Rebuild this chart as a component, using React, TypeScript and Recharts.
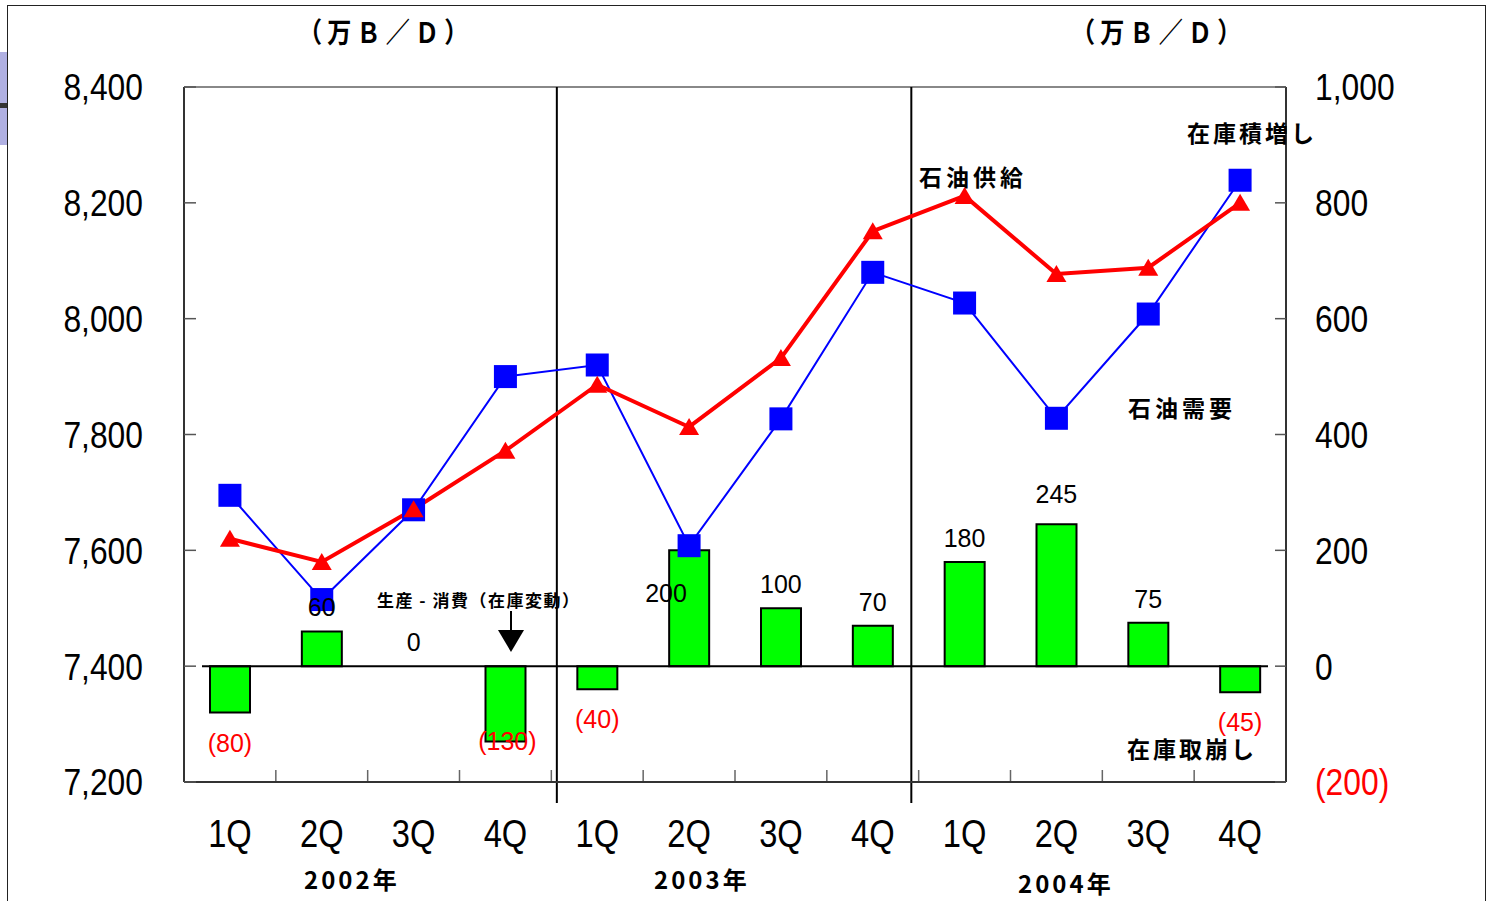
import React from "react";
import {
  ComposedChart,
  Bar,
  Line,
  XAxis,
  YAxis,
  ReferenceLine,
} from "recharts";

const quarters = ["1Q", "2Q", "3Q", "4Q", "1Q", "2Q", "3Q", "4Q", "1Q", "2Q", "3Q", "4Q"];
const demand = [7695, 7515, 7670, 7900, 7920, 7608, 7827, 8080, 8027, 7828, 8008, 8239];
const supply = [7620, 7580, 7671, 7772, 7886, 7813, 7932, 8151, 8212, 8077, 8088, 8200];
const stockChange = [-80, 60, 0, -130, -40, 200, 100, 70, 180, 245, 75, -45];

const leftTicks = [7200, 7400, 7600, 7800, 8000, 8200, 8400];
const rightTicks = [-200, 0, 200, 400, 600, 800, 1000];
const quarterEdges = [1, 2, 3, 4, 5, 6, 7, 8, 9, 10, 11];
const yearBreaks = [4.06, 7.92];
const years = ["2002年", "2003年", "2004年"];

const data = quarters.map((q, i) => ({
  q,
  slot: i + 0.5,
  demand: demand[i],
  supply: supply[i],
  change: stockChange[i],
}));

const NUM_FONT = "'Liberation Sans', Arial, sans-serif";
const JP_FONT = "'Noto Sans CJK JP', 'Noto Sans', sans-serif";

// hand-placed nudges for a few value labels
const labelNudge: Record<number, [number, number]> = {
  3: [2, -30],
  5: [-23, 67],
  9: [0, -6],
};

const fmtNum = (v: number) => (v < 0 ? `(${Math.abs(v).toLocaleString("en-US")})` : v.toLocaleString("en-US"));

function LeftTick({ x, y, payload }: any) {
  return (
    <g>
      <line x1={x} x2={x + 12} y1={y} y2={y} stroke="#555" strokeWidth={1.5} />
      <text
        transform={`translate(${x - 41} ${y}) scale(0.86 1)`}
        textAnchor="end"
        dy="0.36em"
        fontSize={37}
        fontFamily={NUM_FONT}
        fill="#000"
      >
        {fmtNum(payload.value)}
      </text>
    </g>
  );
}

function RightTick({ x, y, payload }: any) {
  return (
    <g>
      <line x1={x - 11} x2={x} y1={y} y2={y} stroke="#555" strokeWidth={1.5} />
      <text
        transform={`translate(${x + 29} ${y}) scale(0.86 1)`}
        textAnchor="start"
        dy="0.36em"
        fontSize={37}
        fontFamily={NUM_FONT}
        fill={payload.value < 0 ? "#ff0000" : "#000"}
      >
        {fmtNum(payload.value)}
      </text>
    </g>
  );
}

function QuarterTick({ x, y, payload }: any) {
  return (
    <text
      transform={`translate(${x} ${y + 65}) scale(0.86 1)`}
      textAnchor="middle"
      fontSize={38}
      fontFamily={NUM_FONT}
      fill="#000"
    >
      {payload.value}
    </text>
  );
}

function SquareDot({ cx, cy }: any) {
  const s = 23;
  return <rect x={cx - s / 2} y={cy - s / 2} width={s} height={s} fill="#0000ff" />;
}

function TriangleDot({ cx, cy }: any) {
  return (
    <polygon
      points={`${cx},${cy - 9} ${cx - 10},${cy + 8} ${cx + 10},${cy + 8}`}
      fill="#ff0000"
    />
  );
}

// value labels ride on an invisible line through the bar ends
function ChangeLabel({ x, y, value, index }: any) {
  const neg = value < 0;
  const [dx, dy] = labelNudge[index] || [0, 0];
  const cy = (neg ? y + 30 : y - 24) + dy;
  return (
    <text
      x={x + dx}
      y={cy}
      dy="0.36em"
      textAnchor="middle"
      fontSize={25}
      fontFamily={NUM_FONT}
      fill={neg ? "#ff0000" : "#000"}
    >
      {fmtNum(value)}
    </text>
  );
}

function YearBreak({ x1, y1, x2, y2 }: any) {
  const top = Math.min(y1, y2);
  const bottom = Math.max(y1, y2);
  return <line x1={x1} y1={top} x2={x2} y2={bottom + 21} stroke="#000" strokeWidth={2} />;
}

function ZeroLine({ x1, y1, x2, y2 }: any) {
  const left = Math.min(x1, x2);
  const right = Math.max(x1, x2);
  return <line x1={left + 18} y1={y1} x2={right - 18} y2={y2} stroke="#000" strokeWidth={2} />;
}

const note = (extra: React.CSSProperties): React.CSSProperties => ({
  position: "absolute",
  fontFamily: JP_FONT,
  fontWeight: 700,
  color: "#000",
  whiteSpace: "nowrap",
  lineHeight: 1,
  ...extra,
});

export default function App() {
  return (
    <div style={{ position: "absolute", left: 0, top: 0, width: 1487, height: 901, background: "#fff", overflow: "hidden" }}>
      {/* page frame */}
      <div style={{ position: "absolute", left: 7, top: 5, width: 1477, height: 910, borderTop: "1.5px solid #222", borderLeft: "1.5px solid #222", borderRight: "1.5px solid #222" }} />
      <div style={{ position: "absolute", left: 0, top: 52, width: 7, height: 93, background: "#b0b0e2" }} />
      <div style={{ position: "absolute", left: 0, top: 103, width: 7, height: 5, background: "#333" }} />

      <ComposedChart
        width={1487}
        height={901}
        data={data}
        margin={{ top: 87, right: 0, bottom: 0, left: 0 }}
        style={{ position: "absolute", left: 0, top: 0 }}
      >
        <XAxis
          xAxisId="edge"
          dataKey="slot"
          type="number"
          scale="linear"
          domain={[0, 12]}
          allowDataOverflow
          ticks={quarterEdges}
          interval={0}
          mirror
          height={1}
          axisLine={false}
          tickSize={12}
          tickLine={{ stroke: "#666", strokeWidth: 1.5 }}
          tickFormatter={() => ""}
        />
        <XAxis
          dataKey="q"
          height={119}
          interval={0}
          tickLine={false}
          tickSize={0}
          tickMargin={0}
          axisLine={{ stroke: "#333", strokeWidth: 2 }}
          tick={<QuarterTick />}
        />
        <YAxis
          yAxisId="left"
          width={184}
          domain={[7200, 8400]}
          ticks={leftTicks}
          interval={0}
          allowDataOverflow
          tickLine={false}
          tickSize={0}
          tickMargin={0}
          axisLine={{ stroke: "#333", strokeWidth: 2 }}
          tick={<LeftTick />}
        />
        <YAxis
          yAxisId="right"
          orientation="right"
          width={201}
          domain={[-200, 1000]}
          ticks={rightTicks}
          interval={0}
          allowDataOverflow
          tickLine={false}
          tickSize={0}
          tickMargin={0}
          axisLine={{ stroke: "#333", strokeWidth: 2 }}
          tick={<RightTick />}
        />
        <ReferenceLine yAxisId="left" y={8400} stroke="#888" strokeWidth={2} />
        <ReferenceLine yAxisId="right" y={0} shape={<ZeroLine />} />
        {yearBreaks.map((b) => (
          <ReferenceLine key={b} xAxisId="edge" yAxisId="left" x={b} shape={<YearBreak />} />
        ))}
        <Bar
          yAxisId="right"
          dataKey="change"
          barSize={40}
          fill="#00ff00"
          stroke="#000"
          strokeWidth={2}
          isAnimationActive={false}
        />
        <Line
          yAxisId="right"
          dataKey="change"
          stroke="none"
          strokeWidth={0}
          dot={false}
          activeDot={false}
          label={<ChangeLabel />}
          isAnimationActive={false}
        />
        <Line
          yAxisId="left"
          dataKey="demand"
          stroke="#0000ff"
          strokeWidth={2}
          dot={<SquareDot />}
          activeDot={false}
          isAnimationActive={false}
        />
        <Line
          yAxisId="left"
          dataKey="supply"
          stroke="#ff0000"
          strokeWidth={4}
          dot={<TriangleDot />}
          activeDot={false}
          isAnimationActive={false}
        />
      </ComposedChart>

      {/* arrow pointing at the stock-change bars */}
      <svg width={1487} height={901} style={{ position: "absolute", left: 0, top: 0, pointerEvents: "none" }}>
        <line x1={511} y1={611} x2={511} y2={632} stroke="#000" strokeWidth={2} />
        <polygon points="498,630 524,630 511,652" fill="#000" />
      </svg>

      <div style={note({ left: 298, top: 17, fontSize: 28, letterSpacing: 6, transform: "scaleX(0.86)", transformOrigin: "left top" })}>（万Ｂ／Ｄ）</div>
      <div style={note({ left: 1071, top: 17, fontSize: 28, letterSpacing: 6, transform: "scaleX(0.86)", transformOrigin: "left top" })}>（万Ｂ／Ｄ）</div>

      <div style={note({ left: 1187, top: 121, fontSize: 23, letterSpacing: 3 })}>在庫積増し</div>
      <div style={note({ left: 919, top: 165, fontSize: 23, letterSpacing: 4 })}>石油供給</div>
      <div style={note({ left: 1128, top: 396, fontSize: 23, letterSpacing: 4 })}>石油需要</div>
      <div style={note({ left: 1127, top: 737, fontSize: 23, letterSpacing: 3 })}>在庫取崩し</div>
      <div style={note({ left: 377, top: 591, fontSize: 17, letterSpacing: 1.5 })}>生産 - 消費（在庫変動）</div>

      <div style={note({ left: 304, top: 867, fontSize: 24, letterSpacing: 3 })}>{years[0]}</div>
      <div style={note({ left: 654, top: 867, fontSize: 24, letterSpacing: 3 })}>{years[1]}</div>
      <div style={note({ left: 1018, top: 871, fontSize: 24, letterSpacing: 3 })}>{years[2]}</div>
    </div>
  );
}
